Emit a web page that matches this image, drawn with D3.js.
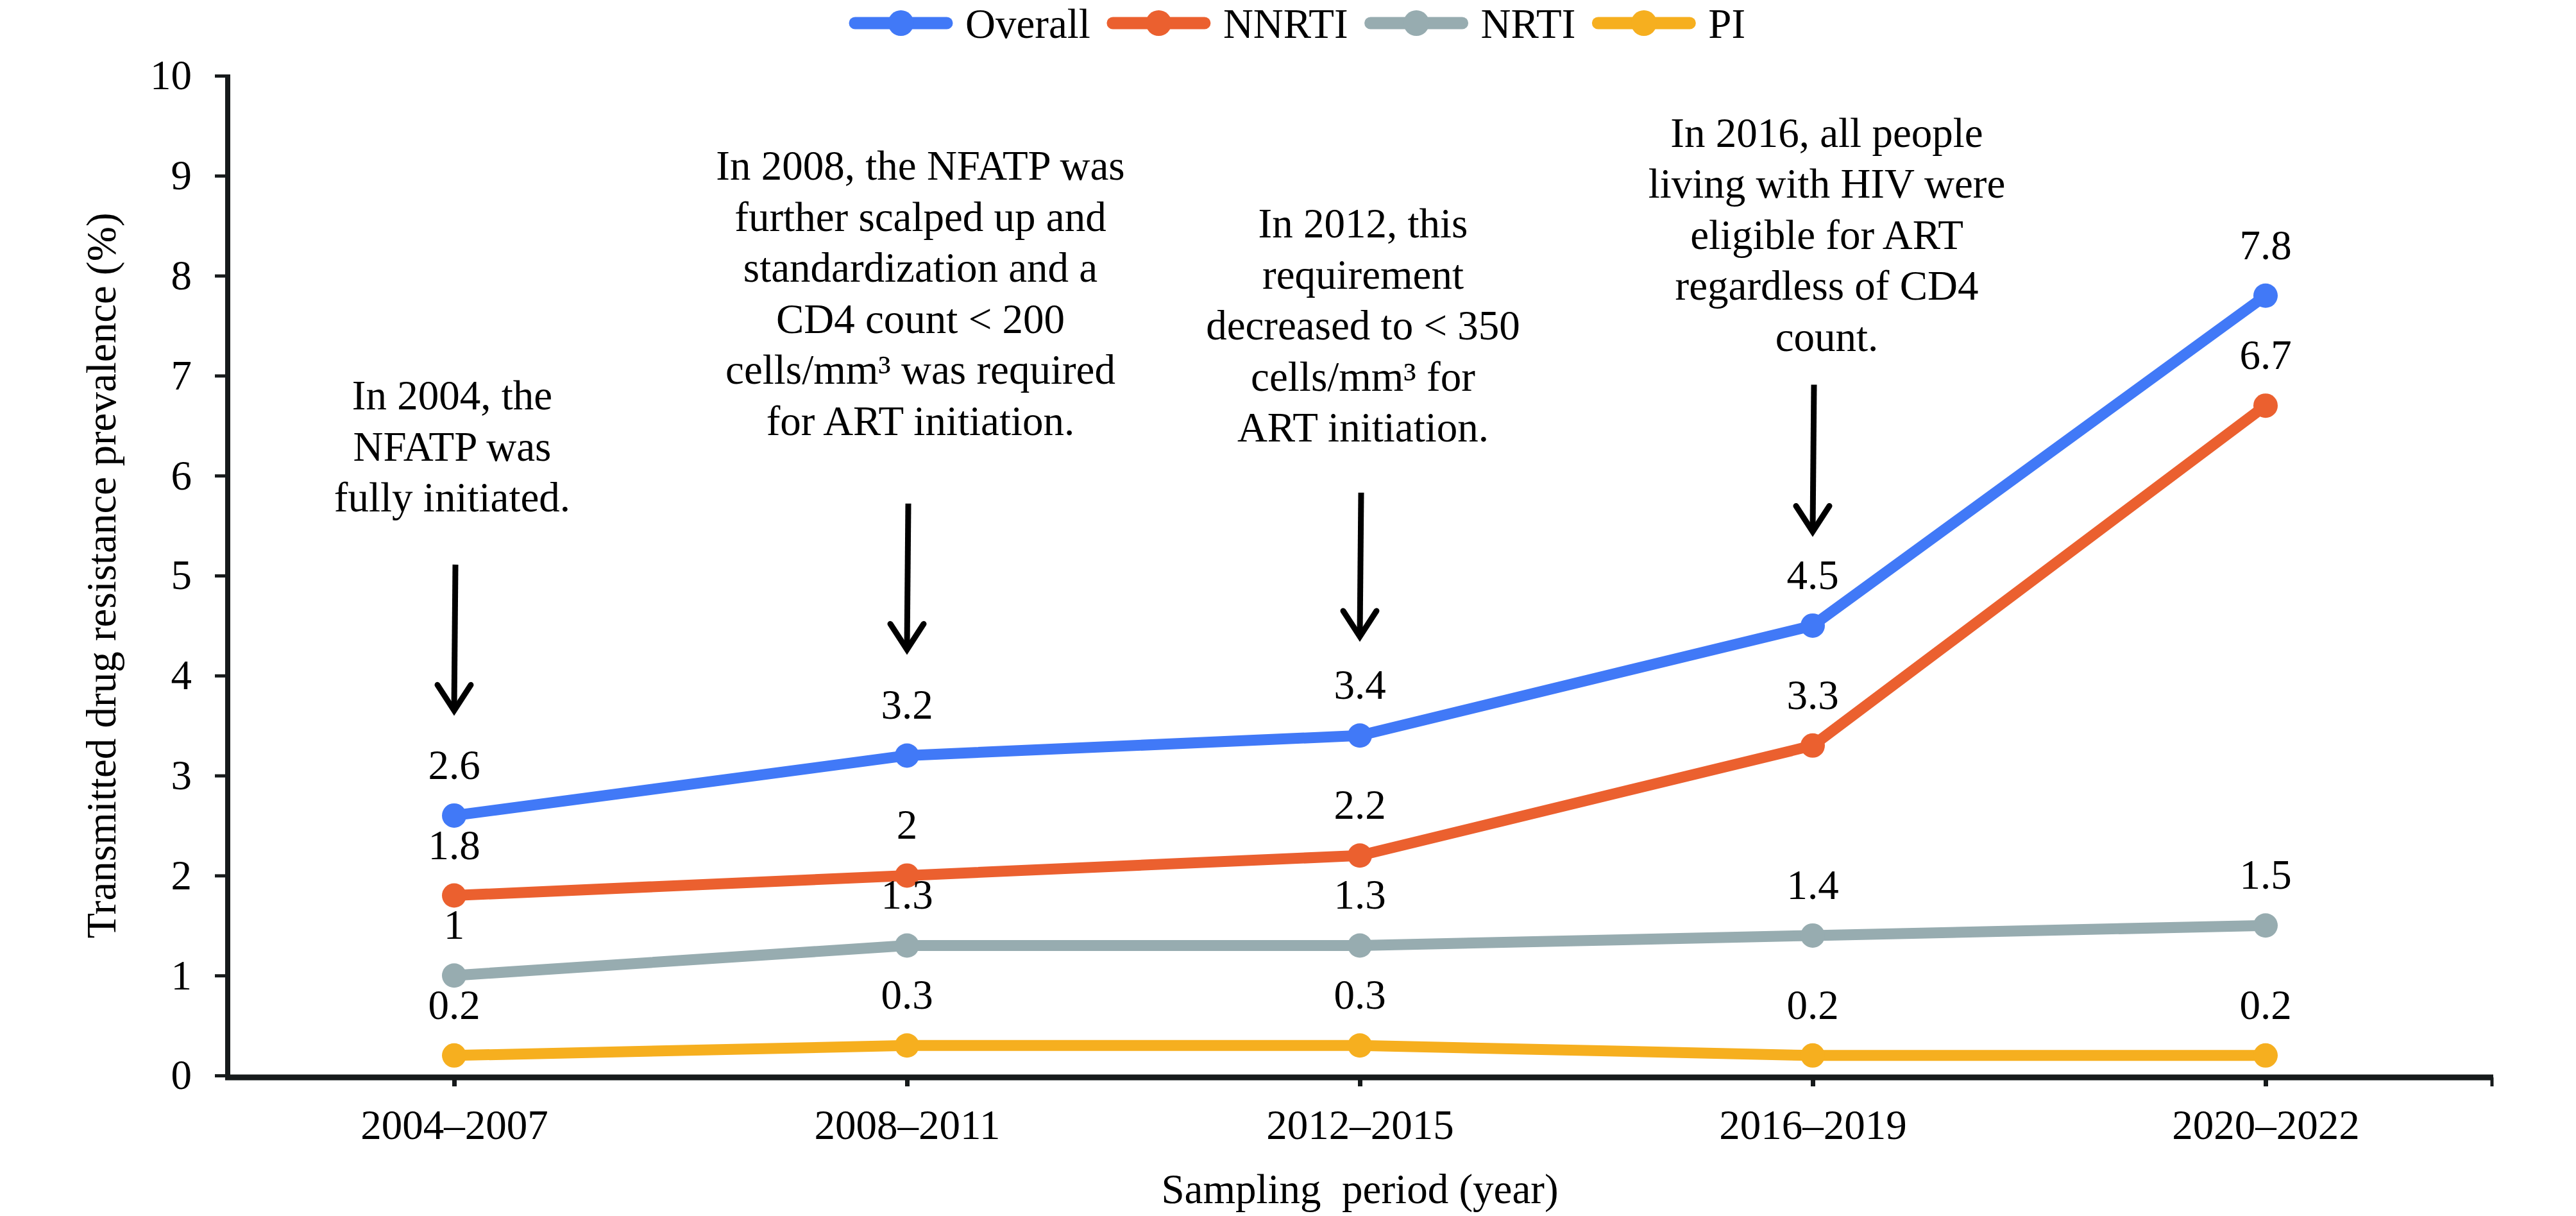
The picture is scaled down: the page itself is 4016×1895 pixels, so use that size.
<!DOCTYPE html>
<html>
<head>
<meta charset="utf-8">
<script src="https://cdn.jsdelivr.net/npm/d3@7"></script>
<style>
  html, body { margin: 0; padding: 0; background: #fff; }
  svg { display: block; }
  text { font-family: "Liberation Serif", "Times New Roman", serif; fill: #000; }
</style>
</head>
<body>
<svg id="chart" width="4016" height="1895"></svg>
<script>
// ---------- DATA ----------
const categories = ["2004–2007", "2008–2011", "2012–2015", "2016–2019", "2020–2022"];
const seriesNames = ["Overall", "NNRTI", "NRTI", "PI"];
const overallValues = [2.6, 3.2, 3.4, 4.5, 7.8];
const nnrtiValues   = [1.8, 2.0, 2.2, 3.3, 6.7];
const nrtiValues    = [1.0, 1.3, 1.3, 1.4, 1.5];
const piValues      = [0.2, 0.3, 0.3, 0.2, 0.2];
const yTickValues   = [0, 1, 2, 3, 4, 5, 6, 7, 8, 9, 10];
const yTitle = "Transmitted drug resistance prevalence (%)";
const xTitle = "Sampling  period (year)";

// annotation texts (category index, lines)
const annotationCategory = [0, 1, 2, 3];
const annotationLines = [
  ["In 2004, the", "NFATP was", "fully initiated."],
  ["In 2008, the NFATP was", "further scalped up and", "standardization and a", "CD4 count < 200", "cells/mm³ was required", "for ART initiation."],
  ["In 2012, this", "requirement", "decreased to < 350", "cells/mm³ for", "ART initiation."],
  ["In 2016, all people", "living with HIV were", "eligible for ART", "regardless of CD4", "count."]
];
// annotation layout (value units on the y scale)
const annotationTextTop  = [6.66, 8.96, 8.38, 9.29];  // first baseline
const annotationArrowTop = [5.11, 5.72, 5.83, 6.91];
const annotationArrowTip = [3.65, 4.26, 4.39, 5.44];
const annotationDx = [-3, 21, 5, 22];

// ---------- STYLE ----------
const colors = ["#4179F7", "#EB602F", "#97ACB0", "#F6AF1F"];
const FONT = 65;
const SERIF = '"Liberation Serif", "Times New Roman", serif';
const svg = d3.select("#chart");
svg.append("rect").attr("width", 4016).attr("height", 1895).attr("fill", "#fff");

const x = d3.scalePoint().domain(categories).range([355, 3885]).padding(0.5);
const y = d3.scaleLinear().domain([0, 10]).range([1676, 118]);

const seriesValues = [overallValues, nnrtiValues, nrtiValues, piValues];
const series = seriesNames.map((name, i) => ({
  name, color: colors[i],
  values: categories.map((c, j) => ({ c, v: seriesValues[i][j] }))
}));

// ---------- AXES ----------
const axisColor = "#161a1b";
// y axis
const yAxis = d3.axisLeft(y).tickValues(yTickValues).tickSize(20).tickPadding(36).tickFormat(d3.format("d"));
const gy = svg.append("g").attr("transform", "translate(355,0)").call(yAxis);
gy.attr("font-family", null).attr("font-size", null);
gy.select(".domain").remove();
gy.selectAll(".tick line").attr("stroke", axisColor).attr("stroke-width", 5);
gy.selectAll(".tick text").style("font-size", FONT + "px").style("font-family", SERIF).attr("fill", "#000");
svg.append("line").attr("x1", 355).attr("x2", 355).attr("y1", y(10) - 2).attr("y2", y(0) + 6)
  .attr("stroke", axisColor).attr("stroke-width", 8);

// x axis
const xAxis = d3.axisBottom(x).tickSize(14).tickPadding(0).tickFormat(d => d);
const gx = svg.append("g").attr("transform", `translate(0,${y(0) + 3})`).call(xAxis);
gx.attr("font-family", null).attr("font-size", null);
gx.select(".domain").remove();
gx.selectAll(".tick line").attr("stroke", axisColor).attr("stroke-width", 7);
gx.selectAll(".tick text").style("font-size", FONT + "px").style("font-family", SERIF)
  .attr("fill", "#000").attr("y", 96).attr("dy", 0);
// end tick
gx.append("line").attr("x1", x.range()[1]).attr("x2", x.range()[1]).attr("y1", 0).attr("y2", 14)
  .attr("stroke", axisColor).attr("stroke-width", 5);
svg.append("line").attr("x1", 351).attr("x2", x.range()[1] + 2).attr("y1", y(0) + 3).attr("y2", y(0) + 3)
  .attr("stroke", axisColor).attr("stroke-width", 9);

// axis titles
svg.append("text").attr("transform", `translate(180,${(y(0) + y(10)) / 2}) rotate(-90)`)
  .attr("text-anchor", "middle").style("font-size", FONT + "px").style("font-family", SERIF).text(yTitle);
svg.append("text").attr("x", (x.range()[0] + x.range()[1]) / 2).attr("y", 1875)
  .attr("text-anchor", "middle").style("font-size", FONT + "px").style("font-family", SERIF)
  .style("white-space", "pre").text(xTitle);

// ---------- LINES ----------
const line = d3.line().x(d => x(d.c)).y(d => y(d.v));
const gs = svg.append("g").selectAll("g").data(series).join("g");
gs.append("path").attr("d", d => line(d.values)).attr("fill", "none")
  .attr("stroke", d => d.color).attr("stroke-width", 17).attr("stroke-linejoin", "round");
gs.selectAll("circle").data(d => d.values.map(v => ({ ...v, color: d.color }))).join("circle")
  .attr("cx", d => x(d.c)).attr("cy", d => y(d.v)).attr("r", 19).attr("fill", d => d.color);

// data labels
gs.selectAll("text.lbl").data(d => d.values).join("text").attr("class", "lbl")
  .attr("x", d => x(d.c)).attr("y", d => y(d.v) - 57)
  .attr("text-anchor", "middle").style("font-size", FONT + "px").style("font-family", SERIF)
  .text(d => String(d.v));

// ---------- ANNOTATIONS ----------
const ga = svg.append("g");
annotationLines.forEach((lines, i) => {
  const cx = x(categories[annotationCategory[i]]);
  const t = ga.append("text").attr("text-anchor", "middle")
    .style("font-size", FONT + "px").style("font-family", SERIF);
  lines.forEach((ln, k) => {
    t.append("tspan").attr("x", cx + annotationDx[i]).attr("y", y(annotationTextTop[i]) + k * 79.5).text(ln);
  });
  const top = y(annotationArrowTop[i]), tip = y(annotationArrowTip[i]);
  ga.append("line").attr("x1", cx + 2).attr("x2", cx).attr("y1", top).attr("y2", tip - 3)
    .attr("stroke", "#000").attr("stroke-width", 9);
  ga.append("path").attr("d", `M${cx - 26},${tip - 40} L${cx},${tip} L${cx + 26},${tip - 40}`)
    .attr("fill", "none").attr("stroke", "#000").attr("stroke-width", 9)
    .attr("stroke-linecap", "round").attr("stroke-linejoin", "miter");
});

// ---------- LEGEND ----------
const lg = svg.append("g");
let lx = 1333;
const ly = 36;
series.forEach(s => {
  lg.append("line").attr("x1", lx).attr("x2", lx + 143).attr("y1", ly).attr("y2", ly)
    .attr("stroke", s.color).attr("stroke-width", 19).attr("stroke-linecap", "round");
  lg.append("circle").attr("cx", lx + 71.5).attr("cy", ly).attr("r", 20).attr("fill", s.color);
  const t = lg.append("text").attr("x", lx + 172).attr("y", ly).attr("dy", "0.35em")
    .style("font-size", FONT + "px").style("font-family", SERIF).text(s.name);
  lx = lx + 172 + t.node().getComputedTextLength() + 35;
});
</script>
</body>
</html>
